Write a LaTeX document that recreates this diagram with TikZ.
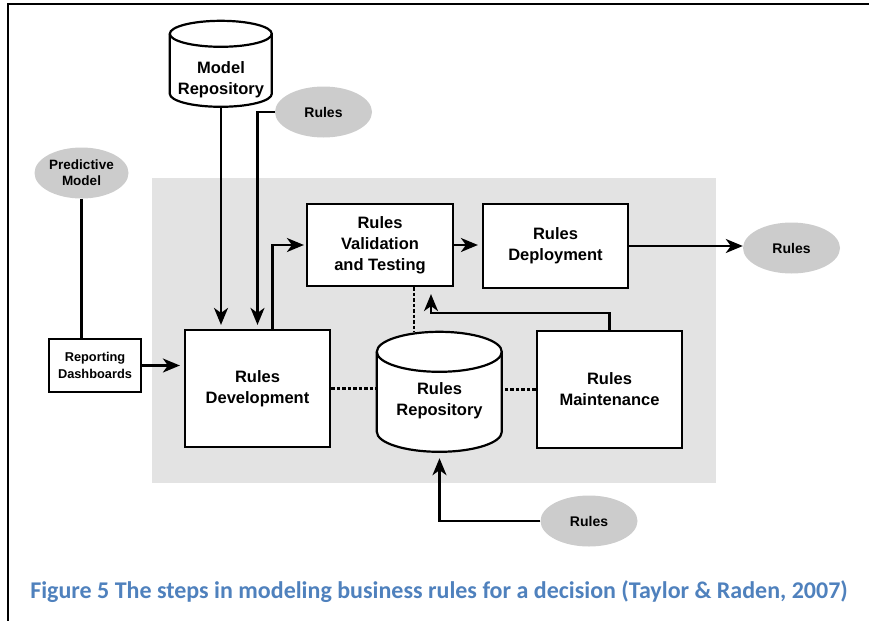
\documentclass[tikz,border=0pt]{standalone}
\usepackage{fontspec}
\setmainfont{Liberation Sans}
\newfontfamily\capfont{Carlito}
\usetikzlibrary{shapes.geometric,arrows.meta}

\definecolor{panelgray}{RGB}{227,227,227}
\definecolor{blobgray}{RGB}{204,204,204}
\definecolor{capblue}{RGB}{79,129,189}

\begin{document}
\begin{tikzpicture}[x=1pt,y=1pt,yscale=-1,
  stepbox/.style={draw, line width=2.2pt, fill=white, align=center, inner sep=0pt,
    font=\bfseries\fontsize{16.5}{21}\selectfont},
  storebox/.style={inner sep=0pt},
  storeline/.style={draw, line width=2.2pt, fill=white},
  storetext/.style={align=center, inner sep=0pt, font=\bfseries\fontsize{16.5}{21}\selectfont},
  blob/.style={ellipse, fill=blobgray, inner sep=0pt, minimum width=97pt, minimum height=51pt,
    align=center, font=\bfseries\fontsize{14}{16}\selectfont},
  flow/.style={line width=2.2pt, -{Stealth[length=17pt,width=14pt,inset=5pt]}, shorten >=4pt},
  tie/.style={line width=2.2pt, dash pattern=on 3.5pt off 2pt}]

\useasboundingbox (0,0) rectangle (869,621);

% page frame and grey panel
\draw[line width=2pt] (869,3.5) -- (7.5,3.5) -- (7.5,621);
\fill[panelgray] (152,178) rectangle (716,483);

% stores
\node[storebox, minimum width=102pt, minimum height=86pt] (modelrepo) at (221,64) {};
\path[storeline] (modelrepo.north west) ++(0,13) -- ++(0,60) arc[start angle=180, end angle=0, x radius=51, y radius=13]
  -- ++(0,-60) arc[start angle=0, end angle=-180, x radius=51, y radius=13] -- cycle;
\draw[line width=2.2pt] (modelrepo.north west) ++(0,13) arc[start angle=180, end angle=0, x radius=51, y radius=13];
\node[storetext] (modelrepolabel) at (221,80) {Model\\Repository};

\node[storebox, minimum width=125pt, minimum height=120pt] (rulesrepo) at (439.5,392) {};
\path[storeline] (rulesrepo.north west) ++(0,20) -- ++(0,80) arc[start angle=180, end angle=0, x radius=62.5, y radius=20]
  -- ++(0,-80) arc[start angle=0, end angle=-180, x radius=62.5, y radius=20] -- cycle;
\draw[line width=2.2pt] (rulesrepo.north west) ++(0,20) arc[start angle=180, end angle=0, x radius=62.5, y radius=20];
\node[storetext] (rulesrepolabel) at (439.5,401) {Rules\\Repository};

% steps
\node[stepbox, minimum width=146pt, minimum height=82pt] (valid) at (380,245) {Rules\\Validation\\and Testing};
\node[stepbox, minimum width=145pt, minimum height=84pt] (deploy) at (555.5,246) {Rules\\Deployment};
\node[stepbox, minimum width=145pt, minimum height=117pt] (develop) at (257.5,388.5) {Rules\\Development};
\node[stepbox, minimum width=145pt, minimum height=117pt] (maint) at (609.5,389.5) {Rules\\Maintenance};
\node[stepbox, minimum width=92pt, minimum height=53pt, font=\bfseries\fontsize{12.8}{17}\selectfont] (report) at (95,365.5) {Reporting\\Dashboards};

% inputs and outputs
\node[blob] (rulesA) at (323.5,112) {Rules};
\node[blob, minimum width=94pt, font=\bfseries\fontsize{13.5}{16}\selectfont] (predictive) at (81.5,173) {Predictive\\Model};
\node[blob] (rulesR) at (791.5,248) {Rules};
\node[blob] (rulesB) at (589,521) {Rules};

% connectors
\draw[flow] (modelrepo.south) -- (modelrepo.south |- develop.north);
\draw[flow] (rulesA.west) -| (develop.north);
\draw[flow, shorten >=2pt] ([xshift=15pt]develop.north) |- (valid.west);
\draw[line width=2.2pt] (predictive.south) -- (predictive.south |- report.north);
\draw[flow] (report.east) -- (report.east -| develop.west);
\draw[flow] (valid.east) -- (valid.east -| deploy.west);
\draw[flow, shorten >=0pt] (deploy.east) -- (deploy.east -| rulesR.west);
\draw[flow, shorten >=7pt] (maint.north) -- ++(0,-17) -| ([xshift=51pt]valid.south);
\draw[flow, shorten >=6pt] (rulesB.west) -| (rulesrepo.south);
\draw[tie] (develop.east) -- (develop.east -| rulesrepo.west);
\draw[tie] (maint.west) -- (maint.west -| rulesrepo.east);
\draw[tie] ([xshift=34pt]valid.south) -- ([xshift=34pt]valid.south |- rulesrepo.north);

% caption
\node[font=\capfont\bfseries\fontsize{24}{28}\selectfont, text=capblue] (caption) at (439,592)
  {Figure 5 The steps in modeling business rules for a decision (Taylor \& Raden, 2007)};
\end{tikzpicture}
\end{document}
